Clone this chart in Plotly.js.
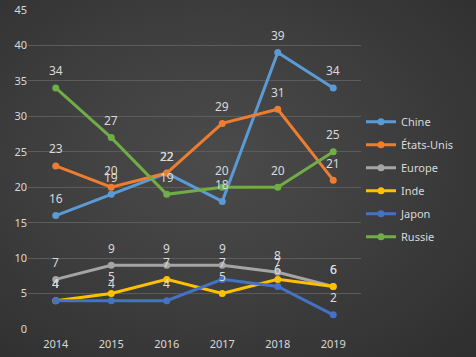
<!DOCTYPE html>
<html><head><meta charset="utf-8">
<script src="https://cdn.plot.ly/plotly-3.0.1.min.js"></script>
<style>
html,body{margin:0;padding:0;width:476px;height:357px;overflow:hidden;
background:radial-gradient(ellipse at 45% 45%, #4b4b4b 0%, #3f3f3f 45%, #2e2e2e 100%);}
#chart{width:476px;height:357px;}
</style></head><body>
<div id="chart"></div>
<script>
const years = ['2014','2015','2016','2017','2018','2019'];
const seriesNames = ['Chine','États-Unis','Europe','Inde','Japon','Russie'];
const chine = [16,19,22,18,39,34];
const etatsUnis = [23,20,22,29,31,21];
const europe = [7,9,9,9,8,6];
const inde = [4,5,7,5,7,6];
const japon = [4,4,4,7,6,2];
const russie = [34,27,19,20,20,25];
const yTicks = [0,5,10,15,20,25,30,35,40,45];

const allValues = [chine, etatsUnis, europe, inde, japon, russie];
const colors = ['#5B9BD5','#ED7D31','#A5A5A5','#FFC000','#4472C4','#70AD47'];
const txt = '#d9d9d9';
const font = 'Noto Sans, sans-serif';

const traces = allValues.map((vals, i) => ({
  type:'scatter', mode:'lines+markers', name: seriesNames[i],
  x: years, y: vals, legendgroup: 'g'+i,
  line:{color:colors[i], width:3},
  marker:{color:colors[i], size:7}
}));

const annotations = [];
allValues.forEach((vals) => {
  vals.forEach((v, j) => {
    annotations.push({xref:'x', yref:'y', x: j, y: v, text: String(v), showarrow:false,
      yshift:17, font:{family:font, size:12, color:txt}});
  });
});

const layout = {
  width:476, height:357,
  margin:{l:28, r:115, t:10, b:28},
  paper_bgcolor:'rgba(0,0,0,0)', plot_bgcolor:'rgba(0,0,0,0)',
  font:{family:font, size:11, color:txt},
  showlegend:true,
  legend:{x:1.0, xanchor:'left', y:0.695, yanchor:'top', bgcolor:'rgba(0,0,0,0)',
    font:{family:font, size:11, color:txt}, itemwidth:30, tracegroupgap:4,
    traceorder:'grouped'},
  xaxis:{type:'category', range:[-0.5,5.5], showgrid:false, zeroline:false,
    showline:false, ticks:'outside', ticklen:5, tickcolor:'rgba(0,0,0,0)',
    tickfont:{family:font, size:11, color:txt}},
  yaxis:{range:[0,45], tickvals:yTicks, showgrid:true, gridcolor:'#5c5c5c', gridwidth:1,
    zeroline:false, showline:false, ticks:'',
    tickfont:{family:font, size:11, color:txt}},
  annotations: annotations
};
Plotly.newPlot('chart', traces, layout, {displayModeBar:false, staticPlot:true});
</script></body></html>
